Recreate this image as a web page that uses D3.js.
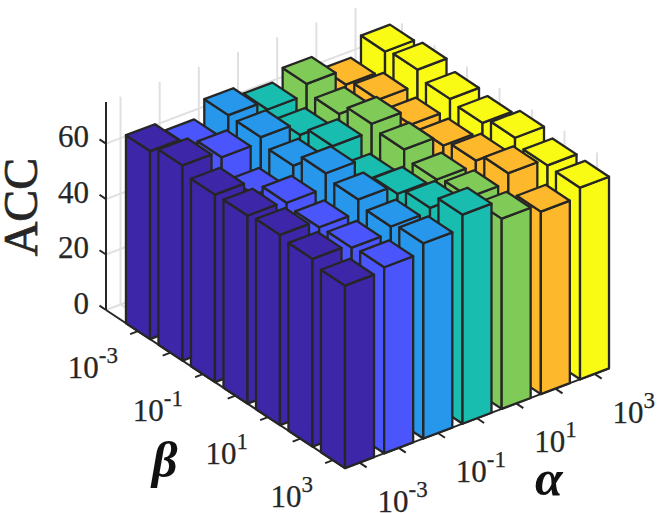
<!DOCTYPE html>
<html><head><meta charset="utf-8">
<style>html,body{margin:0;padding:0;background:#fff}svg{display:block}</style>
<script src="https://cdn.jsdelivr.net/npm/d3@7/dist/d3.min.js"></script>
</head><body><svg id="c" width="657" height="513"></svg>
<script>
// ACC per beta index (rows: 10^-3 ... 10^3), one array per alpha value
const alphaExp = [-3,-2,-1,0,1,2,3];
const betaExp  = [-3,-2,-1,0,1,2,3];
const acc1 = [67.8,70.4,67.6,67.8,68.6,67.7,65.8];
const acc2 = [64.2,68.0,62.2,67.1,66.0,66.4,67.1];
const acc3 = [70.1,69.9,67.4,72.4,70.7,68.7,70.4];
const acc4 = [66.8,65.4,69.1,64.4,67.4,70.1,75.4];
const acc5 = [70.7,67.6,71.8,70.3,67.2,68.6,68.6];
const acc6 = [65.1,67.4,66.2,66.4,68.7,71.9,65.8];
const acc7 = [71.7,72.9,70.1,69.2,71.6,69.4,69.1];
const series = [acc1,acc2,acc3,acc4,acc5,acc6,acc7];
const colors = ["#3e26a8","#4a55fb","#2797eb","#18bdb0","#80cb58","#feb82c","#f9fb15"];
const zTicks = [0,20,40,60];
const labelledAlpha = [0,2,4,6];
const labelledBeta  = [0,2,4,6];

const ink = "#262626", gridC = "#e0e0e0";
const barW = 0.74, betaOffset = 0.614, alphaMax = 6.74, betaMax = 7.354, zMax = 75;
const aX = d3.scaleLinear().domain([0,1]).range([0,39.17]);
const aY = d3.scaleLinear().domain([0,1]).range([0,-14.8]);
const bX = d3.scaleLinear().domain([0,1]).range([0,32.5]);
const bY = d3.scaleLinear().domain([0,1]).range([0,21.5]);
const zY = d3.scaleLinear().domain([0,zMax]).range([0,-208]);
const P = (a,b,z=0)=>[106+aX(a)+bX(b), 310+aY(a)+bY(b)+zY(z)];
const svg = d3.select("#c");
const seg = (g,p,q,c,w)=>g.append("line").attr("x1",p[0]).attr("y1",p[1]).attr("x2",q[0]).attr("y2",q[1]).attr("stroke",c).attr("stroke-width",w);

// grid
const grid = svg.append("g");
zTicks.forEach(z=>{
  seg(grid,P(0,0,z),P(alphaMax,0,z),gridC,2);
  seg(grid,P(alphaMax,0,z),P(alphaMax,betaMax,z),gridC,2);
});
alphaExp.forEach((_,i)=>{
  const a=i+barW/2;
  seg(grid,P(a,0,0),P(a,0,zMax),gridC,2);
  seg(grid,P(a,0,0),P(a,betaMax,0),gridC,2);
});
betaExp.forEach((_,j)=>{
  const b=j+betaOffset+barW/2;
  seg(grid,P(alphaMax,b,0),P(alphaMax,b,zMax),gridC,2);
  seg(grid,P(0,b,0),P(alphaMax,b,0),gridC,2);
});

// axes
const axes = svg.append("g");
const axW = 2;
seg(axes,P(0,0,0),P(0,0,zMax),ink,axW);
seg(axes,P(0,0,0),P(0,betaMax,0),ink,axW);
seg(axes,P(0,betaMax,0),P(alphaMax,betaMax,0),ink,axW);
zTicks.forEach(z=>seg(axes,P(0,0,z),P(0,-0.2,z),ink,axW));
betaExp.forEach((_,j)=>{const b=j+betaOffset+barW/2; seg(axes,P(0,b),P(-0.2,b),ink,axW);});
alphaExp.forEach((_,i)=>{const a=i+barW/2; seg(axes,P(a,betaMax),P(a,betaMax+0.22),ink,axW);});

// bars, far to near
const bars = svg.append("g").attr("stroke",ink).attr("stroke-width",2.3).attr("stroke-linejoin","round");
const poly = (pts,c)=>bars.append("polygon").attr("points",pts.map(p=>p.join(",")).join(" ")).attr("fill",c);
betaExp.forEach((_,j)=>{
  for(let i=alphaExp.length-1;i>=0;i--){
    const z=series[i][j], c=colors[i];
    const b0=j+betaOffset, b1=b0+barW, a0=i, a1=i+barW;
    poly([P(a0,b0,0),P(a0,b1,0),P(a0,b1,z),P(a0,b0,z)],c);
    poly([P(a0,b1,0),P(a1,b1,0),P(a1,b1,z),P(a0,b1,z)],c);
    poly([P(a0,b0,z),P(a0,b1,z),P(a1,b1,z),P(a1,b0,z)],c);
  }
});

// labels
const font="'Liberation Serif','Times New Roman',serif";
const txt = svg.append("g").attr("font-family",font).attr("fill",ink).attr("stroke",ink).attr("stroke-width",0.25);
const power=(x,y,e,anchor)=>{
  const t=txt.append("text").attr("x",x).attr("y",y).attr("text-anchor",anchor).attr("font-size",31);
  t.append("tspan").text("10");
  t.append("tspan").attr("dy",-15).attr("font-size",23).text(e);
};
zTicks.forEach(z=>{
  const p=P(0,0,z);
  txt.append("text").attr("x",p[0]-17).attr("y",p[1]+3.5).attr("text-anchor","end").attr("font-size",31).text(z);
});
labelledBeta.forEach(j=>{
  const p=P(0,j+betaOffset+barW/2);
  power(p[0]-20,p[1]+47,betaExp[j],"end");
});
labelledAlpha.forEach(i=>{
  const p=P(i+barW/2,betaMax);
  power(p[0]+18,p[1]+49,alphaExp[i],"start");
});
txt.append("text").attr("transform","translate(37,207) rotate(-90)").attr("text-anchor","middle").attr("font-size",48).attr("stroke-width",0.7).text("ACC");
svg.append("text").attr("x",152).attr("y",477).attr("font-family",font).attr("font-style","italic").attr("font-weight","bold").attr("font-size",50).attr("fill","#111").text("β");
svg.append("text").attr("x",535).attr("y",495).attr("font-family",font).attr("font-style","italic").attr("font-weight","bold").attr("font-size",50).attr("fill","#111").text("α");
</script></body></html>
